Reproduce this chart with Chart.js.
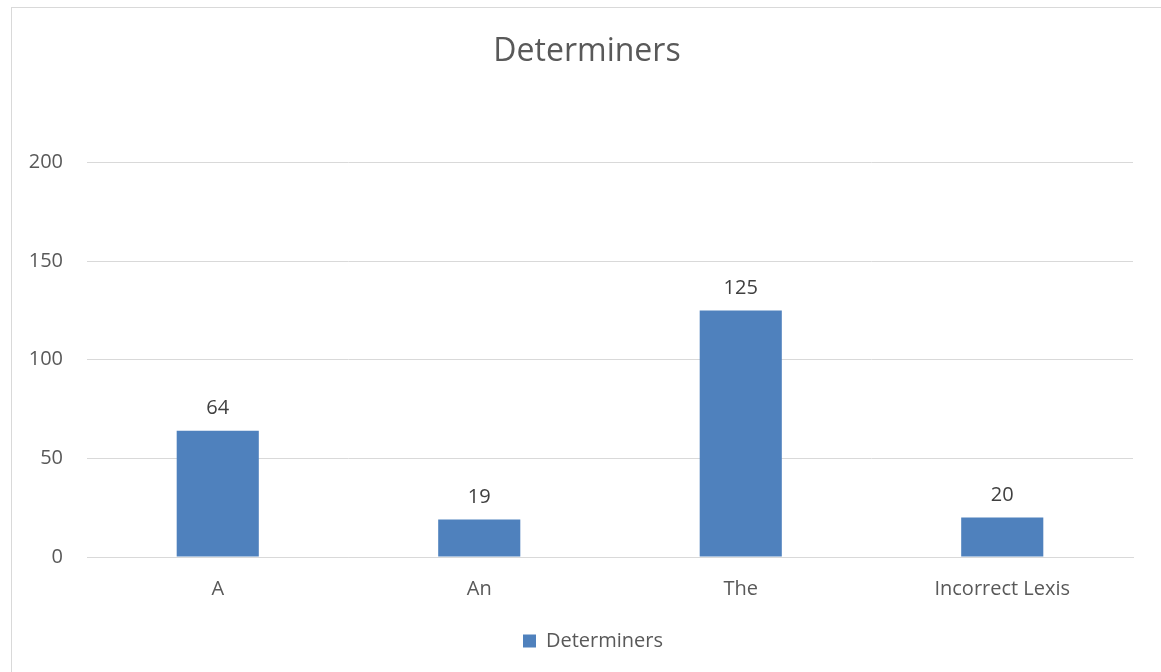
<!DOCTYPE html>
<html>
<head>
<meta charset="utf-8">
<script src="https://cdn.jsdelivr.net/npm/chart.js@4"></script>
<style>
  html, body { margin: 0; padding: 0; background: #fff; }
  #wrap { position: relative; width: 1161px; height: 672px; overflow: hidden; }
  #frame { position: absolute; left: 11px; top: 7px; width: 1160px; height: 680px;
           border-left: 1px solid #d9d9d9; border-top: 1px solid #d9d9d9; }
  canvas { position: absolute; left: 0; top: 0; }
</style>
</head>
<body>
<div id="wrap">
  <div id="frame"></div>
  <canvas id="chartDeterminers" width="1161" height="672"></canvas>
</div>
<script>
const categories = ['A', 'An', 'The', 'Incorrect Lexis'];
const counts = [64, 19, 125, 20];
const yTicks = [0, 50, 100, 150, 200];

const fontFamily = '"Open Sans", "Noto Sans", sans-serif';

// draws the value above each bar
const valueLabels = {
  id: 'valueLabels',
  afterDatasetsDraw(chart) {
    const ctx = chart.ctx;
    const meta = chart.getDatasetMeta(0);
    ctx.save();
    ctx.font = '20px ' + fontFamily;
    ctx.fillStyle = '#404040';
    ctx.textAlign = 'center';
    ctx.textBaseline = 'middle';
    meta.data.forEach(function (bar, i) {
      ctx.fillText(String(counts[i]), bar.x, bar.y - 22);
    });
    ctx.restore();
  }
};

// nudge title and legend right, the way Excel centres them
const nudgeBoxes = {
  id: 'nudgeBoxes',
  afterLayout(chart) {
    const move = function (box, dx) {
      if (!box) return;
      box.left += dx;
      box.right += dx;
    };
    move(chart.titleBlock, 15);
    move(chart.legend, 21);
  }
};

document.addEventListener('DOMContentLoaded', function () {
  const ctx = document.getElementById('chartDeterminers').getContext('2d');

  new Chart(ctx, {
    type: 'bar',
    data: {
      labels: categories,
      datasets: [{
        label: 'Determiners',
        data: counts,
        backgroundColor: '#4f81bd',
        categoryPercentage: 1,
        barPercentage: 0.314
      }]
    },
    options: {
      responsive: false,
      animation: false,
      layout: { padding: { left: 11, right: 28, top: 0, bottom: 11 } },
      scales: {
        x: {
          grid: { display: false, drawTicks: false },
          border: { color: '#d9d9d9' },
          ticks: { color: '#595959', font: { family: fontFamily, size: 20 }, padding: 20 },
          afterFit(scale) { scale.height = 64; }
        },
        y: {
          min: 0,
          max: 200,
          afterBuildTicks(scale) { scale.ticks = yTicks.map(v => ({ value: v })); },
          grid: { color: '#d9d9d9', drawTicks: false },
          border: { display: false },
          ticks: { color: '#595959', font: { family: fontFamily, size: 20 }, padding: 24 },
          afterFit(scale) { scale.width = 76; }
        }
      },
      plugins: {
        title: {
          display: true,
          text: 'Determiners',
          color: '#595959',
          font: { family: fontFamily, size: 32, weight: 'normal' },
          padding: { top: 33, bottom: 91 }
        },
        legend: {
          position: 'bottom',
          labels: {
            color: '#595959',
            font: { family: fontFamily, size: 20 },
            boxWidth: 13,
            boxHeight: 13,
            padding: 10
          }
        },
        tooltip: { enabled: false }
      }
    },
    plugins: [valueLabels, nudgeBoxes]
  });
});
</script>
</body>
</html>
